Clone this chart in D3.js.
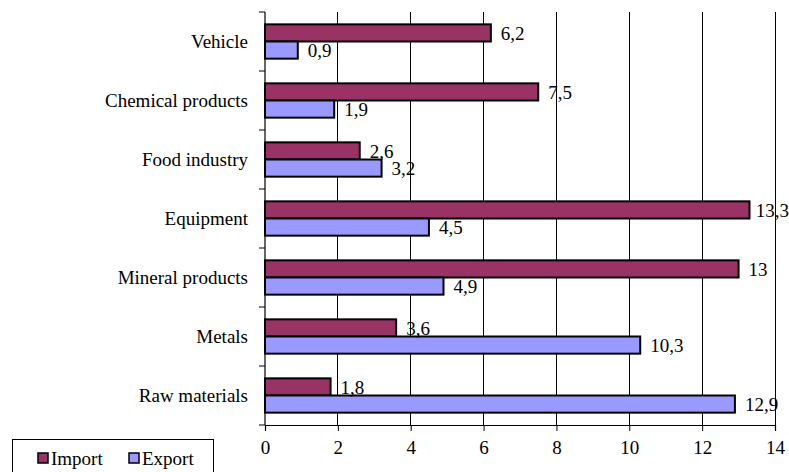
<!DOCTYPE html>
<html>
<head>
<meta charset="utf-8">
<script src="https://cdn.jsdelivr.net/npm/d3@7"></script>
<style>
  html, body { margin: 0; padding: 0; background: #fff; }
</style>
</head>
<body>
<svg id="chart" width="789" height="472"></svg>
<script>
// Trade structure by product group
const categories = ["Vehicle", "Chemical products", "Food industry", "Equipment", "Mineral products", "Metals", "Raw materials"];
const importValues = [6.2, 7.5, 2.6, 13.3, 13, 3.6, 1.8];
const exportValues = [0.9, 1.9, 3.2, 4.5, 4.9, 10.3, 12.9];
const seriesNames = ["Import", "Export"];
const xTicks = [0, 2, 4, 6, 8, 10, 12, 14];

const FONT = "\"Liberation Serif\"";
const FS = 19;
const W = 789;
const colors = { Import: "#993366", Export: "#9999ff" };
const fmt = v => String(v).replace(".", ",");

const svg = d3.select("#chart");
const m = { left: 265, right: 775, top: 12, bottom: 425 };

const x = d3.scaleLinear().domain([0, 14]).range([m.left, m.right]);
const y = d3.scaleBand().domain(categories).range([m.top, m.bottom]).paddingInner(0).paddingOuter(0);
const inner = d3.scaleBand().domain(seriesNames).range([0, y.bandwidth()]).paddingInner(0).paddingOuter(0.72);

// vertical gridlines
svg.append("g").selectAll("line").data(xTicks.slice(1)).join("line")
  .attr("x1", d => x(d)).attr("x2", d => x(d))
  .attr("y1", m.top).attr("y2", m.bottom)
  .attr("stroke", "#000").attr("stroke-width", 1).attr("shape-rendering", "crispEdges");

// bars
const rows = categories.map((c, i) => ({ c, vals: [
  { s: "Import", v: importValues[i] }, { s: "Export", v: exportValues[i] } ] }));

const g = svg.append("g").selectAll("g").data(rows).join("g")
  .attr("transform", d => `translate(0,${y(d.c)})`);

g.selectAll("rect").data(d => d.vals).join("rect")
  .attr("x", x(0))
  .attr("y", d => inner(d.s))
  .attr("width", d => x(d.v) - x(0))
  .attr("height", inner.bandwidth())
  .attr("fill", d => colors[d.s])
  .attr("stroke", "#000").attr("stroke-width", 2);

// value labels, pulled back so they stay inside the drawing
g.selectAll("text").data(d => d.vals).join("text")
  .attr("y", d => inner(d.s) + inner.bandwidth() / 2)
  .attr("dy", "0.35em")
  .style("font-family", FONT)
  .style("font-size", FS + "px")
  .attr("fill", "#000")
  .text(d => fmt(d.v))
  .attr("x", function (d) {
    const w = this.getComputedTextLength();
    return Math.min(x(d.v) + 10, W - w);
  });

// x axis
const xAxis = svg.append("g").attr("transform", `translate(0,${m.bottom})`)
  .call(d3.axisBottom(x).tickValues(xTicks).tickSize(6).tickPadding(10));
xAxis.select(".domain").attr("stroke", "#000").attr("stroke-width", 1.2);
xAxis.selectAll("text").style("font-family", FONT).style("font-size", FS + "px").attr("fill", "#000");
xAxis.selectAll("line").attr("stroke", "#000");

// y axis with ticks at category boundaries
svg.append("line").attr("x1", m.left).attr("x2", m.left).attr("y1", m.top).attr("y2", m.bottom)
  .attr("stroke", "#000").attr("stroke-width", 1.2);
const bounds = categories.map(c => y(c)).concat([m.bottom]);
svg.append("g").selectAll("line").data(bounds).join("line")
  .attr("x1", m.left - 6).attr("x2", m.left)
  .attr("y1", d => d).attr("y2", d => d)
  .attr("stroke", "#000").attr("stroke-width", 1);

svg.append("g").selectAll("text").data(categories).join("text")
  .attr("x", 248)
  .attr("y", d => y(d) + y.bandwidth() / 2)
  .attr("dy", "0.35em")
  .attr("text-anchor", "end")
  .style("font-family", FONT)
  .style("font-size", FS + "px")
  .attr("fill", "#000")
  .text(d => d);

// legend
const lg = svg.append("g");
lg.append("rect").attr("x", 12.5).attr("y", 439.5).attr("width", 201).attr("height", 40)
  .attr("fill", "#fff").attr("stroke", "#000").attr("stroke-width", 1);
const items = [{ s: "Import", x: 38 }, { s: "Export", x: 129 }];
items.forEach(it => {
  lg.append("rect").attr("x", it.x).attr("y", 453).attr("width", 10).attr("height", 10)
    .attr("fill", colors[it.s]).attr("stroke", "#000").attr("stroke-width", 1.5);
  lg.append("text").attr("x", it.x + 13).attr("y", 458).attr("dy", "0.35em")
    .style("font-family", FONT)
    .style("font-size", FS + "px").attr("fill", "#000").text(it.s);
});
</script>
</body>
</html>
